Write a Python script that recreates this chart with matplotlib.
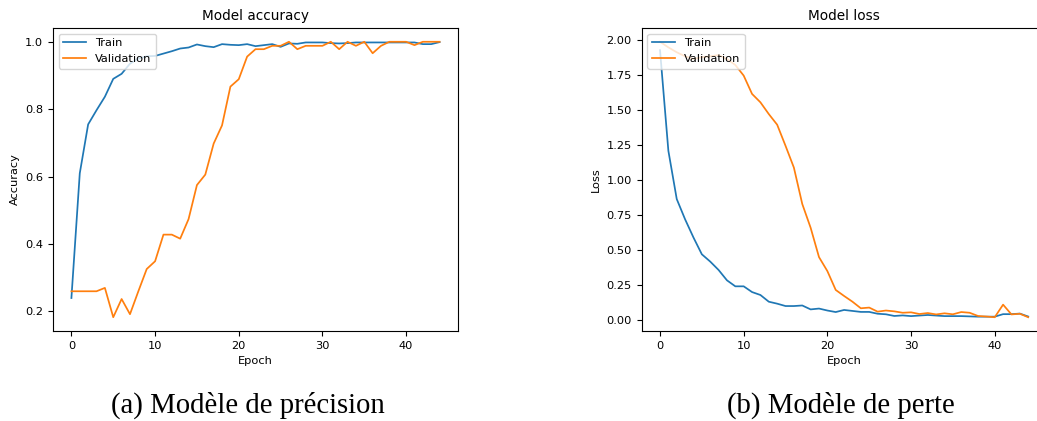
import numpy as np
import matplotlib
matplotlib.use('Agg')
import matplotlib.pyplot as plt
from matplotlib.ticker import MultipleLocator

# valeurs (45 epochs)
epochs = np.arange(45)

train_acc = [0.24, 0.61, 0.755, 0.797, 0.837, 0.89, 0.905, 0.935, 0.95, 0.957,
             0.958, 0.965, 0.972, 0.98, 0.983, 0.992, 0.987, 0.984, 0.993, 0.991,
             0.99, 0.993, 0.987, 0.99, 0.993, 0.985, 0.995, 0.994, 0.998, 0.998,
             0.998, 0.996, 0.995, 0.996, 0.998, 0.998, 0.998, 0.998, 0.998, 0.998,
             0.998, 0.998, 0.993, 0.993, 0.999]
val_acc = [0.26, 0.26, 0.26, 0.26, 0.27, 0.183, 0.237, 0.192, 0.26, 0.326,
           0.349, 0.428, 0.428, 0.416, 0.474, 0.575, 0.606, 0.698, 0.752, 0.867,
           0.889, 0.956, 0.978, 0.978, 0.988, 0.988, 1.0, 0.978, 0.988, 0.988,
           0.988, 1.0, 0.978, 1.0, 0.988, 1.0, 0.966, 0.988, 1.0, 1.0,
           1.0, 0.99, 1.0, 1.0, 1.0]

train_loss = [1.93, 1.21, 0.865, 0.72, 0.59, 0.47, 0.418, 0.358, 0.284, 0.241,
              0.241, 0.2, 0.179, 0.131, 0.117, 0.1, 0.1, 0.104, 0.076, 0.082,
              0.068, 0.057, 0.072, 0.065, 0.058, 0.058, 0.045, 0.041, 0.029, 0.033,
              0.028, 0.032, 0.036, 0.032, 0.028, 0.028, 0.028, 0.026, 0.024, 0.024,
              0.024, 0.042, 0.042, 0.046, 0.025]
val_loss = [1.99, 1.95, 1.915, 1.886, 1.867, 1.88, 1.886, 1.895, 1.867, 1.824,
            1.748, 1.617, 1.557, 1.473, 1.397, 1.246, 1.09, 0.83, 0.66, 0.45,
            0.35, 0.215, 0.172, 0.131, 0.084, 0.089, 0.06, 0.068, 0.062, 0.052,
            0.055, 0.043, 0.05, 0.04, 0.048, 0.041, 0.057, 0.052, 0.029, 0.025,
            0.02, 0.11, 0.04, 0.045, 0.02]

W, H = 1037, 421
fig = plt.figure(figsize=(W / 100, H / 100), dpi=100)

fs = 8.2
lw = 1.25

# (a) précision
ax1 = fig.add_axes([53 / W, (H - 331) / H, 405 / W, 303 / H])
ax1.plot(epochs, train_acc, linewidth=lw, label='Train')
ax1.plot(epochs, val_acc, linewidth=lw, label='Validation')
ax1.set_title('Model accuracy', fontsize=9.8)
ax1.set_xlabel('Epoch', fontsize=fs)
ax1.set_ylabel('Accuracy', fontsize=fs)
ax1.yaxis.set_major_locator(MultipleLocator(0.2))
ax1.tick_params(labelsize=fs)
ax1.legend(loc='upper left', fontsize=fs)

# (b) perte
ax2 = fig.add_axes([641.6 / W, (H - 331) / H, 405 / W, 303 / H])
ax2.plot(epochs, train_loss, linewidth=lw, label='Train')
ax2.plot(epochs, val_loss, linewidth=lw, label='Validation')
ax2.set_title('Model loss', fontsize=9.8)
ax2.set_xlabel('Epoch', fontsize=fs)
ax2.set_ylabel('Loss', fontsize=fs)
ax2.tick_params(labelsize=fs)
ax2.legend(loc='upper left', fontsize=fs)

# légendes sous les figures
fig.text(247.5 / W, 1 - 405 / H, '(a) Modèle de précision', ha='center', va='center',
         fontsize=20.7, family='Liberation Serif')
fig.text(841 / W, 1 - 405 / H, '(b) Modèle de perte', ha='center', va='center',
         fontsize=20.7, family='Liberation Serif')

fig.savefig('out.png', dpi=100)
